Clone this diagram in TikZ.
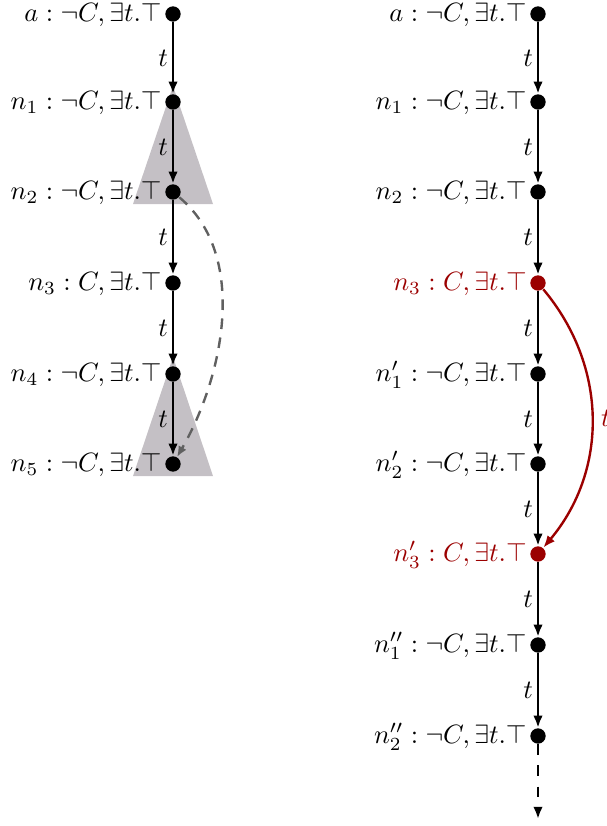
\documentclass[tikz,border=0pt]{standalone}
\usetikzlibrary{arrows.meta}
\definecolor{trigray}{RGB}{196,192,197}
\definecolor{dashgray}{RGB}{96,96,96}
\definecolor{darkred}{RGB}{155,0,0}
\tikzset{
  dot/.style={circle, fill=black, inner sep=0pt, minimum size=5.8pt},
  reddot/.style={dot, fill=darkred},
  lab/.style={anchor=base east, inner sep=0pt, xshift=-1pt, yshift=-2.8pt},
  edgearrow/.style={-{Latex[length=4.6pt,width=3.6pt]}, line width=0.9pt},
  tl/.style={left, inner sep=1.5pt},
  tri/.style={fill=trigray},
}
\begin{document}
\begin{tikzpicture}[x=0.37736pt, y=-0.37736pt]
\useasboundingbox (0,0) rectangle (606,826);
% triangles
\fill[tri] (173,86) -- (213,204) -- (133,204) -- cycle;
\fill[tri] (173,357) -- (213,476) -- (133,476) -- cycle;
% left column
\node[dot] (L0) at (173,14) {};
\node[dot] (L1) at (173,102) {};
\node[dot] (L2) at (173,192) {};
\node[dot] (L3) at (173,283) {};
\node[dot] (L4) at (173,374) {};
\node[dot] (L5) at (173,464) {};
\node[lab] (lL0) at (L0.west) {$a : \neg C, \exists t.\top$};
\node[lab] (lL1) at (L1.west) {$n_1 : \neg C, \exists t.\top$};
\node[lab] (lL2) at (L2.west) {$n_2 : \neg C, \exists t.\top$};
\node[lab] (lL3) at (L3.west) {$n_3 : C, \exists t.\top$};
\node[lab] (lL4) at (L4.west) {$n_4 : \neg C, \exists t.\top$};
\node[lab] (lL5) at (L5.west) {$n_5 : \neg C, \exists t.\top$};
\draw[edgearrow] (L0) -- node[tl] (t01) {$t$} (L1);
\draw[edgearrow] (L1) -- node[tl] (t12) {$t$} (L2);
\draw[edgearrow] (L2) -- node[tl] (t23) {$t$} (L3);
\draw[edgearrow] (L3) -- node[tl] (t34) {$t$} (L4);
\draw[edgearrow] (L4) -- node[tl] (t45) {$t$} (L5);
\draw[dashgray, line width=0.9pt, dash pattern=on 4pt off 3.2pt, -{Latex[length=4pt,width=3.4pt]}] (L2) to[out=-40, in=60, looseness=0.9] (L5);
% right column
\node[dot] (R0) at (538,14) {};
\node[dot] (R1) at (538,102) {};
\node[dot] (R2) at (538,192) {};
\node[reddot] (R3) at (538,283) {};
\node[dot] (R4) at (538,374) {};
\node[dot] (R5) at (538,464) {};
\node[reddot] (R6) at (538,554) {};
\node[dot] (R7) at (538,645) {};
\node[dot] (R8) at (538,736) {};
\coordinate (Rend) at (538,819);
\node[lab] (lR0) at (R0.west) {$a : \neg C, \exists t.\top$};
\node[lab] (lR1) at (R1.west) {$n_1 : \neg C, \exists t.\top$};
\node[lab] (lR2) at (R2.west) {$n_2 : \neg C, \exists t.\top$};
\node[lab, text=darkred] (lR3) at (R3.west) {$n_3 : C, \exists t.\top$};
\node[lab] (lR4) at (R4.west) {$n'_1 : \neg C, \exists t.\top$};
\node[lab] (lR5) at (R5.west) {$n'_2 : \neg C, \exists t.\top$};
\node[lab, text=darkred] (lR6) at (R6.west) {$n'_3 : C, \exists t.\top$};
\node[lab] (lR7) at (R7.west) {$n''_1 : \neg C, \exists t.\top$};
\node[lab] (lR8) at (R8.west) {$n''_2 : \neg C, \exists t.\top$};
\draw[edgearrow] (R0) -- node[tl] (s01) {$t$} (R1);
\draw[edgearrow] (R1) -- node[tl] (s12) {$t$} (R2);
\draw[edgearrow] (R2) -- node[tl] (s23) {$t$} (R3);
\draw[edgearrow] (R3) -- node[tl] (s34) {$t$} (R4);
\draw[edgearrow] (R4) -- node[tl] (s45) {$t$} (R5);
\draw[edgearrow] (R5) -- node[tl] (s56) {$t$} (R6);
\draw[edgearrow] (R6) -- node[tl] (s67) {$t$} (R7);
\draw[edgearrow] (R7) -- node[tl] (s78) {$t$} (R8);
\draw[edgearrow, dash pattern=on 4pt off 4pt] (R8) -- (Rend);
\draw[edgearrow, darkred] (R3) to[bend left=40] node[right, inner sep=3pt, text=darkred] (sred) {$t$} (R6);
\end{tikzpicture}
\end{document}
